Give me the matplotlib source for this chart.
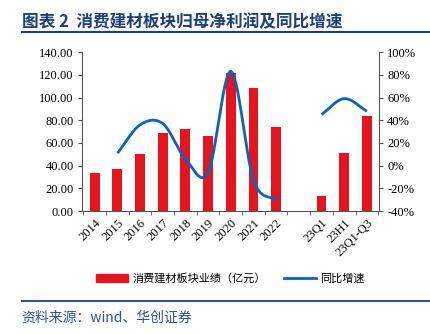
import numpy as np
import matplotlib
matplotlib.use("Agg")
import matplotlib.pyplot as plt
from matplotlib.lines import Line2D
from matplotlib.patches import Patch

plt.rcParams["font.family"] = ["Noto Sans CJK SC", "DejaVu Sans"]

# ---------------------------------------------------------------------------
# Data
# ---------------------------------------------------------------------------
categories = ["2014", "2015", "2016", "2017", "2018", "2019", "2020",
              "2021", "2022", "", "23Q1", "23H1", "23Q1-Q3"]
profit = [33.2, 37.0, 49.9, 68.4, 71.9, 66.0, 121.2, 108.3, 73.7,
          np.nan, 13.5, 50.8, 83.6]
growth = [np.nan, 11.0, 36.0, 37.0, 6.0, -6.0, 83.0, -12.5, -31.0,
          np.nan, 45.0, 59.0, 48.0]

RED = "#E5141F"
BLUE = "#0A64BE"
NAVY = "#1F3F7A"


def catmull_rom(xs, ys, n=30):
    """Excel-style smoothed line through the points."""
    xs = np.asarray(xs, float)
    ys = np.asarray(ys, float)
    px = np.concatenate([[2 * xs[0] - xs[1]], xs, [2 * xs[-1] - xs[-2]]])
    py = np.concatenate([[2 * ys[0] - ys[1]], ys, [2 * ys[-1] - ys[-2]]])
    outx, outy = [], []
    t = np.linspace(0, 1, n)
    for i in range(1, len(px) - 2):
        for arr, out in ((px, outx), (py, outy)):
            p0, p1, p2, p3 = arr[i - 1], arr[i], arr[i + 1], arr[i + 2]
            m1 = (p2 - p0) / 2
            m2 = (p3 - p1) / 2
            h00 = 2 * t**3 - 3 * t**2 + 1
            h10 = t**3 - 2 * t**2 + t
            h01 = -2 * t**3 + 3 * t**2
            h11 = t**3 - t**2
            out.extend(h00 * p1 + h10 * m1 + h01 * p2 + h11 * m2)
    return np.array(outx), np.array(outy)


fig = plt.figure(figsize=(4.31, 3.34), dpi=100)
ax = fig.add_axes([0.190, 0.368, 0.689, 0.476])
x = np.arange(len(categories))

ax.bar(x, profit, width=0.44, color=RED, zorder=2)
ax.set_ylim(0, 140)
ax.set_yticks(np.arange(0, 141, 20))
ax.set_yticklabels([f"{v:.2f}" for v in range(0, 141, 20)],
                   family="Liberation Serif", fontsize=9)
ax.set_xlim(-0.57, 12.53)
ax.set_xticks(x)
ax.set_xticklabels(categories, rotation=45, ha="right", rotation_mode="anchor",
                   family="Liberation Serif", fontsize=9)
ax.tick_params(axis="x", length=0, pad=4)
ax.set_xticks(np.arange(-0.5, 13, 1), minor=True)
ax.tick_params(axis="x", which="minor", length=3, color="#555555")
ax.tick_params(axis="y", length=3, color="#555555", pad=3)
for s in ["top", "right"]:
    ax.spines[s].set_visible(False)
for s in ["left", "bottom"]:
    ax.spines[s].set_color("#555555")

ax2 = ax.twinx()
ax2.set_ylim(-40, 100)
ax2.set_yticks(np.arange(-40, 101, 20))
ax2.set_yticklabels([f"{v}%" for v in range(-40, 101, 20)],
                    family="Liberation Serif", fontsize=9)
ax2.tick_params(axis="y", length=3, color="#555555", pad=3)
for s in ["top", "left", "bottom"]:
    ax2.spines[s].set_visible(False)
ax2.spines["right"].set_color("#555555")

# two smoothed segments of the growth line
g = np.array(growth)
for idx in (range(1, 9), range(10, 13)):
    idx = list(idx)
    sx, sy = catmull_rom(x[idx], g[idx])
    ax2.plot(sx, sy, color=BLUE, lw=2.0, solid_capstyle="butt", zorder=3)

handles = [Patch(color=RED), Line2D([0], [0], color=BLUE, lw=2.0)]
fig.legend(handles, ["消费建材板块业绩（亿元）", "同比增速"],
           loc="center", bbox_to_anchor=(0.534, 0.167), ncol=2, frameon=False,
           fontsize=8, handlelength=2.9, handleheight=0.8, columnspacing=1.6,
           handletextpad=0.4)

# title, rules and source
fig.text(0.05, 0.935, "图表 2  消费建材板块归母净利润及同比增速", fontsize=12,
         fontweight="bold", color=NAVY, va="center")
fig.add_artist(Line2D([0.05, 1.0], [0.905, 0.905], color=NAVY, lw=1.5))
fig.add_artist(Line2D([0.05, 1.0], [0.099, 0.099], color="#2E558F", lw=1.5))
fig.text(0.05, 0.048, "资料来源：wind、华创证券", fontsize=10, color="#2E558F",
         va="center", style="italic")

fig.savefig("out.png", dpi=100)
